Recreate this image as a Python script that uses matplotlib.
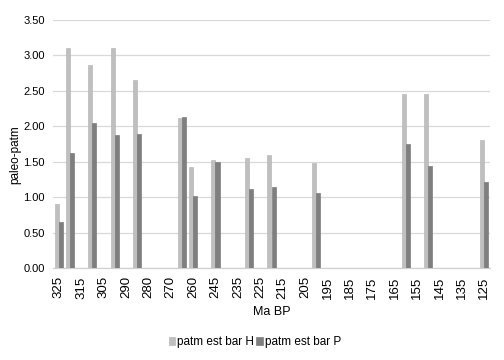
import matplotlib
matplotlib.use("Agg")
import matplotlib.pyplot as plt
import numpy as np

plt.rcParams['font.family'] = ['Liberation Sans', 'DejaVu Sans']

# 39 categories, every other one labelled on the axis
tick_labels = ["325", "315", "305", "290", "280", "270", "260", "245", "235", "225",
               "215", "205", "195", "185", "175", "165", "155", "145", "135", "125"]
n_cat = 39
nan = np.nan
patm_H = [0.90, 3.11, nan, 2.86, nan, 3.10, nan, 2.65, nan, nan,
          nan, 2.11, 1.43, nan, 1.52, nan, nan, 1.55, nan, 1.60,
          nan, nan, nan, 1.48, nan, nan, nan, nan, nan, nan,
          nan, 2.45, nan, 2.45, nan, nan, nan, nan, 1.80]
patm_P = [0.65, 1.62, nan, 2.05, nan, 1.88, nan, 1.89, nan, nan,
          nan, 2.13, 1.02, nan, 1.50, nan, nan, 1.11, nan, 1.14,
          nan, nan, nan, 1.06, nan, nan, nan, nan, nan, nan,
          nan, 1.75, nan, 1.44, nan, nan, nan, nan, 1.21]

fig = plt.figure(figsize=(5.04, 3.6), dpi=100)
ax = fig.add_axes([53/504, 1-268/360, 437/504, 248/360])

x = np.arange(n_cat)
w = 0.36
ax.bar(x - w/2, patm_H, width=w, color='#bfbfbf', edgecolor='#b0b0b0', linewidth=0.4,
       label='patm est bar H', zorder=3)
ax.bar(x + w/2, patm_P, width=w, color='#7f7f7f', edgecolor='#6e6e6e', linewidth=0.4,
       label='patm est bar P', zorder=3)

ax.set_xlim(-0.5, n_cat - 0.5)
ax.set_ylim(0, 3.5)
yt = np.arange(0, 3.51, 0.5)
ax.set_yticks(yt)
ax.set_yticklabels([f"{v:.2f}" for v in yt], fontsize=8)
ax.set_xticks(x[::2])
ax.set_xticklabels(tick_labels, rotation=90, fontsize=9.5)
ax.tick_params(axis='y', length=0, pad=6, colors='#000000')
ax.tick_params(axis='x', length=0, pad=6, colors='#000000')
ax.yaxis.grid(True, color='#d9d9d9', linewidth=0.9, zorder=0)
for s in ['top', 'right', 'left']:
    ax.spines[s].set_visible(False)
ax.spines['bottom'].set_color('#d0d0d0')
ax.spines['bottom'].set_linewidth(0.9)

fig.text(15/504, 1-155/360, 'paleo-patm', rotation=90, ha='center', va='center', fontsize=8.5)
fig.text(272/504, 1-312/360, 'Ma BP', ha='center', va='center', fontsize=9)

leg = fig.legend(loc='center', bbox_to_anchor=(255/504, 1-342/360), ncol=2, frameon=False,
                 fontsize=8.5, handlelength=0.55, handleheight=0.7, handletextpad=0.15,
                 columnspacing=0.2)

fig.savefig('out.png', dpi=100)
